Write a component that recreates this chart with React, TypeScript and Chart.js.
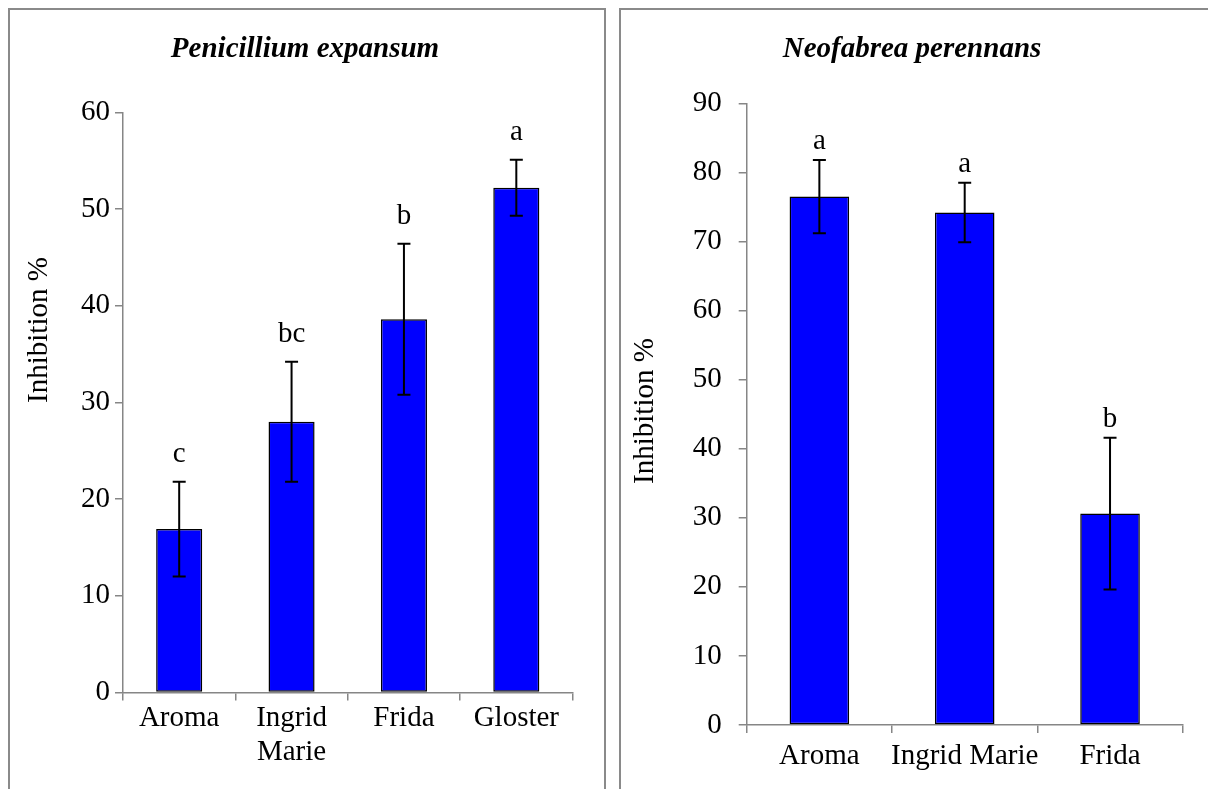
import React, { useEffect, useRef } from "react";
import { Chart, registerables } from "chart.js";

Chart.register(...registerables);

const FONT = "'Liberation Serif', 'Times New Roman', serif";
const AXIS = "#868686";
const FS = 29;

// Panel 1: Penicillium expansum
const penTitle = "Penicillium expansum";
const penCategories: (string | string[])[] = ["Aroma", ["Ingrid", "Marie"], "Frida", "Gloster"];
const penValues = [16.9, 28.0, 38.6, 52.2];
const penErrors = [4.9, 6.2, 7.8, 2.9];
const penLetters = ["c", "bc", "b", "a"];
const penMax = 60;

// Panel 2: Neofabrea perennans
const neoTitle = "Neofabrea perennans";
const neoCategories: (string | string[])[] = ["Aroma", "Ingrid Marie", "Frida"];
const neoValues = [76.5, 74.2, 30.6];
const neoErrors = [5.3, 4.3, 11.0];
const neoLetters = ["a", "a", "b"];
const neoMax = 90;

const yAxisTitle = "Inhibition %";
const tickStep = 10;

const errorBarPlugin = {
  id: "errorBars",
  afterDatasetsDraw(chart: any, _args: any, opts: any) {
    const meta = chart.getDatasetMeta(0);
    const yScale = chart.scales.y;
    const ctx = chart.ctx;
    const data = chart.data.datasets[0].data as number[];
    meta.data.forEach((bar: any, i: number) => {
      const v = data[i];
      const e = opts.errors[i];
      const x = bar.x;
      const top = yScale.getPixelForValue(v + e);
      const bot = yScale.getPixelForValue(v - e);
      ctx.save();
      ctx.strokeStyle = "#000";
      ctx.lineWidth = 2;
      ctx.beginPath();
      ctx.moveTo(x, top);
      ctx.lineTo(x, bot);
      ctx.moveTo(x - 6.5, top);
      ctx.lineTo(x + 6.5, top);
      ctx.moveTo(x - 6.5, bot);
      ctx.lineTo(x + 6.5, bot);
      ctx.stroke();
      ctx.font = `${FS}px ${FONT}`;
      ctx.fillStyle = "#000";
      ctx.textAlign = "center";
      ctx.textBaseline = "alphabetic";
      ctx.fillText(opts.letters[i], x, top - opts.letterGap);
      ctx.restore();
    });
  },
};

const titlesPlugin = {
  id: "panelTitles",
  afterDraw(chart: any, _args: any, opts: any) {
    const ctx = chart.ctx;
    ctx.save();
    ctx.fillStyle = "#000";
    ctx.textAlign = "center";
    ctx.textBaseline = "alphabetic";
    ctx.font = `italic bold ${FS}px ${FONT}`;
    ctx.fillText(opts.title, opts.titleX, opts.titleY);
    ctx.translate(opts.yTitleX, opts.yTitleY);
    ctx.rotate(-Math.PI / 2);
    ctx.textBaseline = "middle";
    ctx.font = `${FS}px ${FONT}`;
    ctx.fillText(opts.yTitle, 0, 0);
    ctx.restore();
  },
};

type PanelProps = {
  left: number;
  title: string;
  categories: (string | string[])[];
  values: number[];
  errors: number[];
  letters: string[];
  max: number;
  letterGap: number;
  yWidth: number;
  padRight: number;
  padTop: number;
  xHeight: number;
  xPad: number;
  yPad: number;
  titleX: number;
  yTitleX: number;
  yTitleY: number;
};

function Panel(p: PanelProps) {
  const ref = useRef<HTMLCanvasElement | null>(null);
  useEffect(() => {
    if (!ref.current) return;
    const tickFont = { family: FONT, size: FS, lineHeight: 1.2 };
    const chart = new Chart(ref.current, {
      type: "bar",
      data: {
        labels: p.categories as any,
        datasets: [
          {
            data: p.values,
            backgroundColor: "#0000FF",
            borderColor: "#000000",
            borderWidth: 1.5,
            borderSkipped: false,
            barPercentage: 0.41,
            categoryPercentage: 1,
          },
        ],
      },
      options: {
        responsive: false,
        animation: false,
        devicePixelRatio: 1,
        layout: { padding: { left: 0, right: p.padRight, top: p.padTop, bottom: 0 } },
        plugins: {
          legend: { display: false },
          tooltip: { enabled: false },
          title: { display: false },
          errorBars: { errors: p.errors, letters: p.letters, letterGap: p.letterGap },
          panelTitles: {
            title: p.title,
            titleX: p.titleX,
            titleY: 47,
            yTitle: yAxisTitle,
            yTitleX: p.yTitleX,
            yTitleY: p.yTitleY,
          },
        } as any,
        scales: {
          x: {
            grid: {
              display: true,
              drawOnChartArea: false,
              drawTicks: true,
              tickLength: 8,
              color: AXIS,
              lineWidth: 1.5,
              offset: true,
            },
            border: { display: true, color: AXIS, width: 1.5 },
            ticks: {
              font: tickFont,
              color: "#000",
              padding: p.xPad,
              maxRotation: 0,
              autoSkip: false,
            },
            afterFit: (s: any) => {
              s.height = p.xHeight;
            },
          },
          y: {
            min: 0,
            max: p.max,
            ticks: { stepSize: tickStep, font: tickFont, color: "#000", padding: p.yPad },
            grid: {
              display: true,
              drawOnChartArea: false,
              drawTicks: true,
              tickLength: 8,
              color: AXIS,
              lineWidth: 1.5,
            },
            border: { display: true, color: AXIS, width: 1.5 },
            afterFit: (s: any) => {
              s.width = p.yWidth;
            },
          },
        },
      },
      plugins: [errorBarPlugin, titlesPlugin],
    });
    return () => chart.destroy();
  }, []);

  return (
    <div
      style={{
        position: "fixed",
        left: p.left,
        top: 8,
        width: 598,
        height: 820,
        boxSizing: "border-box",
        border: "2px solid #8a8a8a",
        background: "#fff",
      }}
    >
      <canvas ref={ref} width={594} height={779} style={{ display: "block", width: 594, height: 779 }} />
    </div>
  );
}

export default function App() {
  useEffect(() => {
    document.documentElement.style.overflow = "hidden";
    document.body.style.overflow = "hidden";
  }, []);
  return (
    <div>
      <Panel
        left={8}
        title={penTitle}
        categories={penCategories}
        values={penValues}
        errors={penErrors}
        letters={penLetters}
        max={penMax}
        letterGap={20}
        yWidth={113}
        padRight={31.5}
        padTop={102.3}
        xHeight={96.5}
        xPad={0}
        yPad={5}
        titleX={295}
        yTitleX={29}
        yTitleY={320}
      />
      <Panel
        left={619}
        title={neoTitle}
        categories={neoCategories}
        values={neoValues}
        errors={neoErrors}
        letters={neoLetters}
        max={neoMax}
        letterGap={11}
        yWidth={125.7}
        padRight={32.3}
        padTop={93.3}
        xHeight={64}
        xPad={6}
        yPad={17}
        titleX={291}
        yTitleX={24}
        yTitleY={401}
      />
    </div>
  );
}
